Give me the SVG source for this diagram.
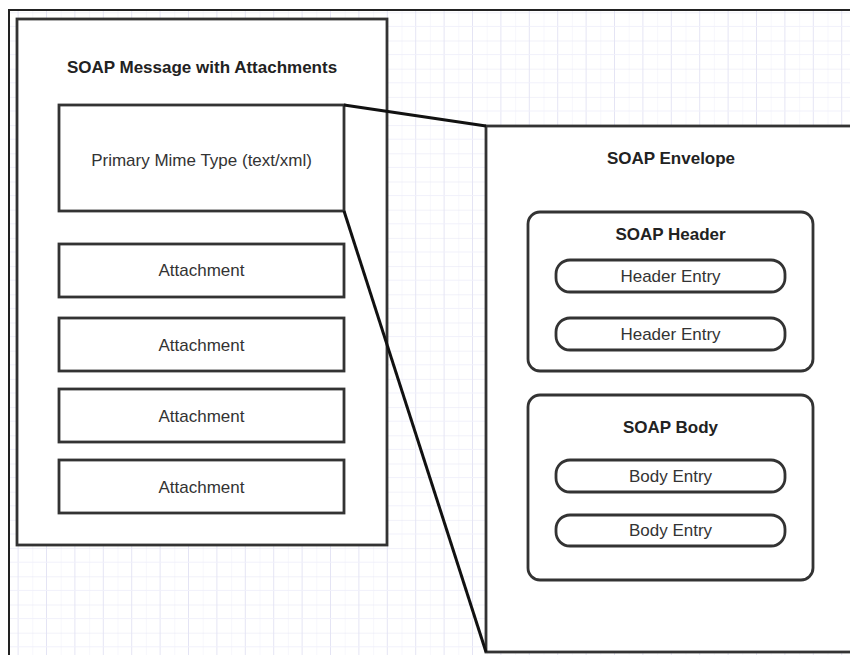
<svg xmlns="http://www.w3.org/2000/svg" width="850" height="655" viewBox="0 0 850 655">
  <defs>
    <!-- faint lavender grid: minor lines with a slightly stronger line every second step -->
    <pattern id="grid" patternUnits="userSpaceOnUse" x="3.9" y="12.3" width="28.4" height="28.2">
      <rect width="28.4" height="28.2" fill="#ffffff"/>
      <line x1="0" y1="0" x2="0" y2="28.2" stroke="#f0f0fa" stroke-width="1"/>
      <line x1="14.2" y1="0" x2="14.2" y2="28.2" stroke="#e4e4f4" stroke-width="1"/>
      <line x1="0" y1="0" x2="28.4" y2="0" stroke="#e4e4f4" stroke-width="1"/>
      <line x1="0" y1="14.1" x2="28.4" y2="14.1" stroke="#f0f0fa" stroke-width="1"/>
    </pattern>
    <style>
      .box { fill: #ffffff; stroke: #333333; stroke-width: 2.8; }
      .frame { fill: none; stroke: #222222; stroke-width: 2; }
      .link { fill: none; stroke: #111111; stroke-width: 3; }
      .lbl { font-family: "Liberation Sans", Arial, sans-serif; font-size: 17px; fill: #333333; text-anchor: middle; dominant-baseline: central; }
      .ttl { font-family: "Liberation Sans", Arial, sans-serif; font-size: 17px; font-weight: bold; fill: #222222; text-anchor: middle; dominant-baseline: central; }
    </style>
  </defs>

  <rect width="850" height="655" fill="#ffffff"/>
  <rect x="10" y="11" width="840" height="644" fill="url(#grid)"/>
  <path class="frame" d="M9 655 V10 H850"/>

  <g id="soap-message">
    <rect class="box" x="17" y="19" width="370" height="526"/>
    <text class="ttl" x="202" y="67">SOAP Message with Attachments</text>
  </g>

  <g id="primary-mime">
    <rect class="box" x="59" y="105" width="285" height="106"/>
    <text class="lbl" x="201.5" y="160">Primary Mime Type (text/xml)</text>
  </g>

  <g id="attachment-1">
    <rect class="box" x="59" y="244" width="285" height="53"/>
    <text class="lbl" x="201.5" y="270">Attachment</text>
  </g>
  <g id="attachment-2">
    <rect class="box" x="59" y="318" width="285" height="53"/>
    <text class="lbl" x="201.5" y="345">Attachment</text>
  </g>
  <g id="attachment-3">
    <rect class="box" x="59" y="389" width="285" height="53"/>
    <text class="lbl" x="201.5" y="416">Attachment</text>
  </g>
  <g id="attachment-4">
    <rect class="box" x="59" y="460" width="285" height="53"/>
    <text class="lbl" x="201.5" y="487">Attachment</text>
  </g>

  <g id="soap-envelope">
    <rect class="box" x="486" y="126" width="380" height="526"/>
    <text class="ttl" x="671" y="158">SOAP Envelope</text>
  </g>

  <g id="soap-header">
    <rect class="box" x="528" y="212" width="285" height="159" rx="12"/>
    <text class="ttl" x="670.5" y="234">SOAP Header</text>
  </g>
  <g id="header-entry-1">
    <rect class="box" x="556" y="260" width="229" height="32" rx="14"/>
    <text class="lbl" x="670.5" y="276">Header Entry</text>
  </g>
  <g id="header-entry-2">
    <rect class="box" x="556" y="318" width="229" height="32" rx="14"/>
    <text class="lbl" x="670.5" y="334">Header Entry</text>
  </g>

  <g id="soap-body">
    <rect class="box" x="528" y="395" width="285" height="185" rx="12"/>
    <text class="ttl" x="670.5" y="427">SOAP Body</text>
  </g>
  <g id="body-entry-1">
    <rect class="box" x="556" y="460" width="229" height="32" rx="14"/>
    <text class="lbl" x="670.5" y="476.5">Body Entry</text>
  </g>
  <g id="body-entry-2">
    <rect class="box" x="556" y="515" width="229" height="31" rx="14"/>
    <text class="lbl" x="670.5" y="530.5">Body Entry</text>
  </g>

  <!-- zoom lines from the primary part to the envelope -->
  <g id="connectors">
    <line class="link" x1="344" y1="105" x2="486" y2="126"/>
    <line class="link" x1="344" y1="211" x2="486" y2="652"/>
  </g>
</svg>
